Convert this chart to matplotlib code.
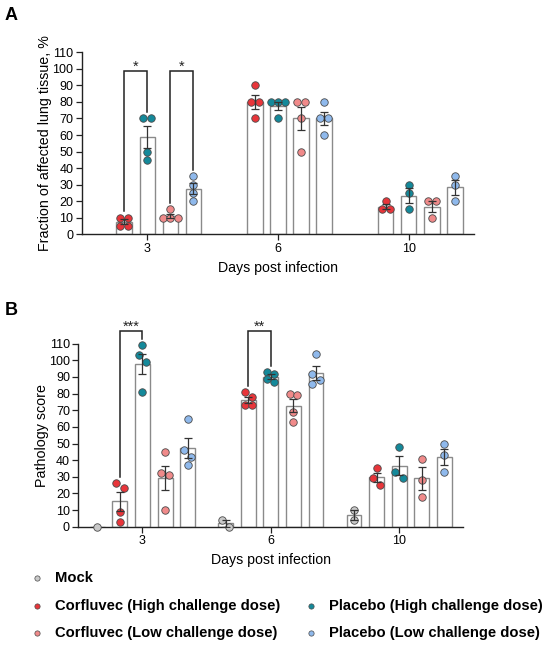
import numpy as np
import matplotlib
matplotlib.use('Agg')
import matplotlib.pyplot as plt
from matplotlib.lines import Line2D

plt.rcParams['font.family'] = ['Liberation Sans', 'DejaVu Sans']

# ---------------- data ----------------
days = ['3', '6', '10']
group_names = ['Mock',
               'Corfluvec (High challenge dose)',
               'Placebo (High challenge dose)',
               'Corfluvec (Low challenge dose)',
               'Placebo (Low challenge dose)']
group_colors = ['#C9C9C9', '#E8353A', '#14899A', '#F08A8A', '#8FB9EC']

# Panel A: fraction of affected lung tissue, % (per day: 3, 6, 10)
a_mock = [[], [], []]
a_corf_high = [[10, 10, 5, 5], [90, 80, 80, 70], [20, 15, 15]]
a_plac_high = [[70, 70, 50, 45], [80, 80, 80, 70], [30, 25, 15]]
a_corf_low = [[15, 10, 10, 10], [80, 80, 70, 50], [20, 20, 10]]
a_plac_low = [[35, 30, 25, 20], [80, 70, 70, 60], [35, 30, 20]]

# Panel B: pathology score
b_mock = [[0], [4, 0], [10, 4]]
b_corf_high = [[26, 23, 9, 3], [81, 78, 73, 73], [35, 29, 25]]
b_plac_high = [[109, 103, 99, 81], [93, 92, 89, 87], [48, 33, 29]]
b_corf_low = [[45, 32, 31, 10], [80, 79, 69, 63], [41, 28, 18]]
b_plac_low = [[65, 46, 42, 37], [104, 92, 88, 86], [50, 43, 33]]

yticks = list(range(0, 111, 10))

# significance: (day index, group a, group b, label)
a_sig = [(0, 1, 2, '*'), (0, 3, 4, '*')]
b_sig = [(0, 1, 2, '***'), (1, 1, 2, '**')]

# ---------------- drawing helpers ----------------
SLOT = 0.176
BAR_W = 0.116
DOT_D = 0.057
THR = 4.1


def swarm_offsets(vals):
    vals = np.asarray(vals, float)
    offs = np.zeros(len(vals))
    if len(vals) == 0:
        return offs
    order = list(np.argsort(-vals, kind='stable'))
    clusters, cur = [], [order[0]]
    for i in order[1:]:
        if vals[cur[-1]] - vals[i] < THR:
            cur.append(i)
        else:
            clusters.append(cur)
            cur = [i]
    clusters.append(cur)
    for c in clusters:
        n = len(c)
        if n == 1:
            continue
        if np.allclose(vals[c], vals[c[0]]):
            for k, i in enumerate(c):
                offs[i] = (k - (n - 1) / 2) * DOT_D
        else:
            for k, i in enumerate(c):
                offs[i] = (-0.5 if k % 2 == 0 else 0.5) * DOT_D
    return offs


def xpos(day, g):
    return day + (g - 2) * SLOT


def draw_panel(ax, series, sigs, top_y, ylabel):
    for g, data in enumerate(series):
        for d, vals in enumerate(data):
            if len(vals) == 0:
                continue
            v = np.asarray(vals, float)
            m = v.mean()
            sem = v.std(ddof=1) / np.sqrt(len(v)) if len(v) > 1 else 0.0
            x = xpos(d, g)
            ax.bar(x, m, width=BAR_W, facecolor='white', edgecolor='#8a8a8a',
                   linewidth=1.0, zorder=2)
            offs = swarm_offsets(v)
            ax.scatter(x + offs, v, s=29, color=group_colors[g],
                       edgecolors='#4a4a4a', linewidths=0.6, zorder=3,
                       clip_on=False)
            if sem > 0:
                ax.errorbar(x, m, yerr=sem, fmt='none', ecolor='#333333',
                            elinewidth=0.9, capsize=2.8, capthick=0.9, zorder=4)
    for d, g1, g2, lab in sigs:
        x1, x2 = xpos(d, g1), xpos(d, g2)
        y1 = max(series[g1][d]) + 3.8
        y2 = max(series[g2][d]) + 3.8
        ax.plot([x1, x1, x2, x2], [y1, top_y, top_y, y2], color='#222222',
                lw=1.1, clip_on=False, zorder=5, solid_joinstyle='miter')
        ax.text((x1 + x2) / 2, top_y + 0.2, lab, ha='center', va='baseline',
                fontsize=10.5, color='#222222')

    ax.set_xlim(-0.5, 2.5)
    ax.set_ylim(0, 110)
    ax.set_yticks(yticks)
    ax.set_xticks(range(len(days)))
    ax.set_xticklabels(days)
    for s in ['top', 'right']:
        ax.spines[s].set_visible(False)
    for s in ['left', 'bottom']:
        ax.spines[s].set_linewidth(1.0)
        ax.spines[s].set_color('#222222')
    ax.tick_params(axis='both', direction='out', length=4, width=0.9,
                   labelsize=9, pad=2, color='#222222')
    ax.set_ylabel(ylabel, fontsize=10.3)
    ax.set_xlabel('Days post infection', fontsize=10.2)


fig = plt.figure(figsize=(5.5, 6.47), dpi=100)
axA = fig.add_axes([0.1485, 0.6379, 0.7139, 0.2813])
axB = fig.add_axes([0.1424, 0.1859, 0.700, 0.2829])

draw_panel(axA, [a_mock, a_corf_high, a_plac_high, a_corf_low, a_plac_low],
           a_sig, 98.5, 'Fraction of affected lung tissue, %')
draw_panel(axB, [b_mock, b_corf_high, b_plac_high, b_corf_low, b_plac_low],
           b_sig, 117.6, 'Pathology score')

axA.yaxis.set_label_coords(-0.0935, 0.5)
axA.yaxis.label.set_va('center')
axB.yaxis.set_label_coords(-0.095, 0.5)
axB.yaxis.label.set_va('center')
axA.xaxis.set_label_coords(0.5, -0.185)
axA.xaxis.label.set_va('center')
axB.xaxis.set_label_coords(0.5, -0.182)
axB.xaxis.label.set_va('center')

W, H = 550.0, 647.0
fig.text(5 / W, 1 - 15 / H, 'A', fontsize=13, fontweight='bold', va='center', ha='left')
fig.text(5 / W, 1 - 310 / H, 'B', fontsize=13, fontweight='bold', va='center', ha='left')

# legend (manual layout)
legend_slots = [(0, 36.7, 578, 55), (1, 36.7, 606, 55), (3, 36.7, 633, 55),
                (2, 311, 606, 329.3), (4, 311, 633, 329.3)]
for g, mx, my, tx in legend_slots:
    fig.add_artist(Line2D([mx / W], [1 - my / H], transform=fig.transFigure,
                          marker='o', markersize=3.8, color=group_colors[g],
                          markeredgecolor='#4a4a4a', markeredgewidth=0.5,
                          linestyle='none'))
    fig.text(tx / W, 1 - my / H, group_names[g], fontsize=10.6,
             fontweight='bold', va='center', ha='left')

fig.savefig('out.png', dpi=100)
